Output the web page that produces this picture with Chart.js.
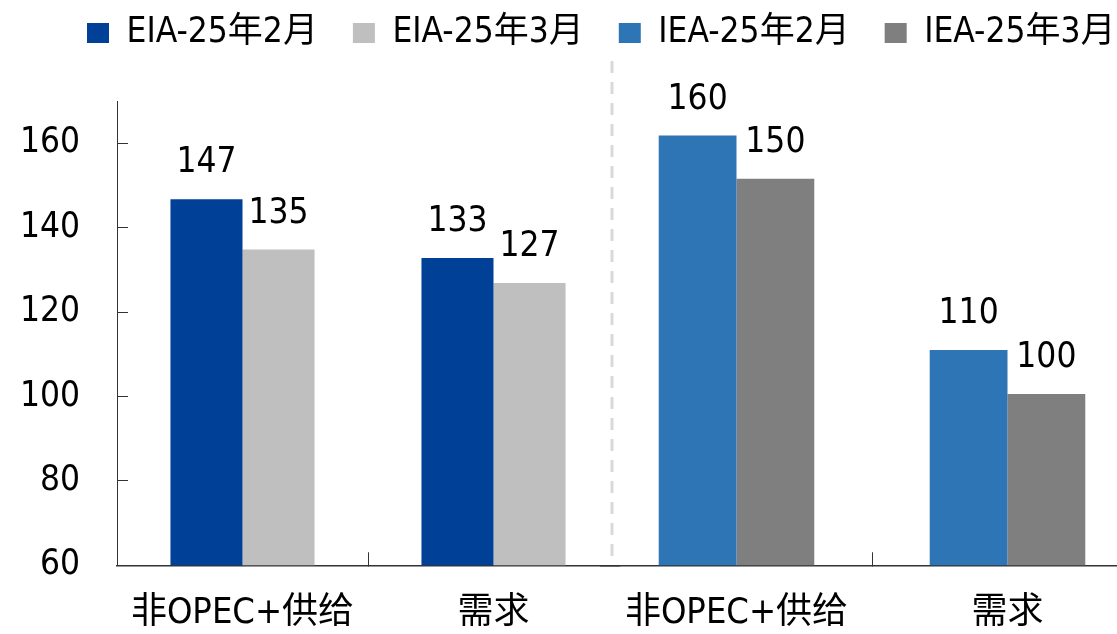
<!DOCTYPE html>
<html>
<head>
<meta charset="utf-8">
<script src="https://cdn.jsdelivr.net/npm/chart.js@4"></script>
<style>
  html, body { margin: 0; padding: 0; background: #fff; overflow: hidden; }
  #wrap { position: relative; width: 1117px; height: 634px; overflow: hidden; }
  #wrap canvas { position: absolute; left: 0; top: 0; }
</style>
</head>
<body>
<div id="wrap">
  <canvas id="eia" width="1180" height="634"></canvas>
  <canvas id="iea" width="1180" height="634"></canvas>
</div>
<script>
// data
const categories = ["非OPEC+供给", "需求"];
const seriesNames = ["EIA-25年2月", "EIA-25年3月", "IEA-25年2月", "IEA-25年3月"];
const seriesColors = ["#004096", "#BFBFBF", "#2E75B6", "#7F7F7F"];
const eiaFeb = [146.7, 132.8];
const eiaMar = [134.8, 126.9];
const ieaFeb = [161.8, 111.0];
const ieaMar = [151.6, 100.6];
const eiaFebText = ["147", "133"];
const eiaMarText = ["135", "127"];
const ieaFebText = ["160", "110"];
const ieaMarText = ["150", "100"];
const yMin = 60, yMax = 170, yStep = 20;

const FONT = "'DejaVu Sans Condensed', 'Noto Sans CJK SC', sans-serif";
Chart.defaults.font.family = FONT;
Chart.defaults.color = "#000";

const W = 1180;
const LEFT_AXIS = 117;     // left chart: y axis position
const LEFT_END = 619;      // left chart: right edge of plot
const RIGHT_START = 601;   // right chart: left edge of plot
const RIGHT_END = 1143;    // right chart: right edge of plot
const PLOT_TOP = 101;
const BOTTOM_PAD = -41.5;  // x axis counts its tick padding twice; take one back
const AXIS_COLOR = "#333";

const LEG_FONT = 35;
const LEG_PAD = 35;
const LEG_LEFT = 87 - LEG_PAD;
const LEG_TOP = 33 - LEG_PAD - LEG_FONT / 2;

// draws the number above each bar
const valueLabels = {
  id: "valueLabels",
  afterDatasetsDraw(chart) {
    const ctx = chart.ctx;
    ctx.save();
    ctx.font = "35px " + FONT;
    ctx.fillStyle = "#000";
    ctx.textAlign = "center";
    ctx.textBaseline = "alphabetic";
    chart.data.datasets.forEach((ds, i) => {
      chart.getDatasetMeta(i).data.forEach((bar, j) => {
        ctx.fillText(ds.valueText[j], bar.x, bar.y - 27);
      });
    });
    ctx.restore();
  }
};

// dashed divider between the two halves
const divider = {
  id: "divider",
  beforeDatasetsDraw(chart) {
    const { ctx, chartArea } = chart;
    const x = chartArea.left + 11;
    ctx.save();
    ctx.strokeStyle = "#D9D9D9";
    ctx.lineWidth = 3;
    ctx.setLineDash([12, 9]);
    ctx.beginPath();
    ctx.moveTo(x, chartArea.top - 40);
    ctx.lineTo(x, chartArea.bottom - 7);
    ctx.stroke();
    ctx.restore();
  }
};

// fixed legend height so the plot starts at the same place in both charts
const legendSpace = {
  id: "legendSpace",
  beforeInit(chart) {
    const fit = chart.legend.fit;
    chart.legend.fit = function () {
      fit.bind(chart.legend)();
      this.height = PLOT_TOP - LEG_TOP;
    };
  }
};

function xAxis() {
  return {
    type: "category",
    offset: true,
    grid: {
      display: true,
      offset: true,
      drawOnChartArea: false,
      drawTicks: true,
      tickLength: -13,
      lineWidth: 1,
      color: (c) => (c.index === 1 ? AXIS_COLOR : "rgba(0,0,0,0)")
    },
    border: { display: true, color: AXIS_COLOR, width: 1.5 },
    ticks: { font: { size: 36 }, padding: 40, maxRotation: 0, autoSkip: false }
  };
}

function barSet(label, data, color, text) {
  return {
    label: label,
    data: data,
    backgroundColor: color,
    borderWidth: 0,
    valueText: text,
    categoryPercentage: 0.574,
    barPercentage: 1.0
  };
}

// left half: EIA
new Chart(document.getElementById("eia"), {
  type: "bar",
  data: {
    labels: categories,
    datasets: [
      barSet(seriesNames[0], eiaFeb, seriesColors[0], eiaFebText),
      barSet(seriesNames[1], eiaMar, seriesColors[1], eiaMarText)
    ]
  },
  options: {
    responsive: false,
    animation: false,
    events: [],
    layout: { padding: { top: PLOT_TOP, right: W - LEFT_END, left: 0, bottom: BOTTOM_PAD } },
    plugins: { legend: { display: false }, tooltip: { enabled: false } },
    scales: {
      x: xAxis(),
      y: {
        min: yMin,
        max: yMax,
        afterFit: (s) => { s.width = LEFT_AXIS; },
        grid: {
          display: true,
          drawOnChartArea: false,
          drawTicks: true,
          tickLength: -11,
          color: AXIS_COLOR,
          lineWidth: 1
        },
        border: { display: true, color: AXIS_COLOR, width: 1 },
        ticks: {
          stepSize: yStep,
          includeBounds: false,
          padding: 48,
          font: { size: 35, lineHeight: 1 }
        }
      }
    }
  },
  plugins: [valueLabels]
});

// right half: IEA (carries the legend for all four series)
new Chart(document.getElementById("iea"), {
  type: "bar",
  data: {
    labels: categories,
    datasets: [
      barSet(seriesNames[2], ieaFeb, seriesColors[2], ieaFebText),
      barSet(seriesNames[3], ieaMar, seriesColors[3], ieaMarText)
    ]
  },
  options: {
    responsive: false,
    animation: false,
    events: [],
    layout: { padding: { top: LEG_TOP, left: LEG_LEFT, right: 0, bottom: BOTTOM_PAD } },
    plugins: {
      tooltip: { enabled: false },
      legend: {
        display: true,
        position: "top",
        align: "start",
        labels: {
          boxWidth: 22,
          boxHeight: 20,
          padding: LEG_PAD,
          font: { size: LEG_FONT },
          color: "#000",
          generateLabels: () => seriesNames.map((name, i) => ({
            text: name,
            fillStyle: seriesColors[i],
            strokeStyle: seriesColors[i],
            lineWidth: 0,
            hidden: false,
            index: i
          }))
        }
      }
    },
    scales: {
      x: xAxis(),
      y: {
        min: yMin,
        max: yMax,
        afterFit: (s) => { s.width = RIGHT_START - LEG_LEFT; },
        grid: { display: false },
        border: { display: false },
        ticks: { display: false }
      },
      yRight: {
        position: "right",
        afterFit: (s) => { s.width = W - RIGHT_END; },
        grid: { display: false },
        border: { display: false },
        ticks: { display: false }
      }
    }
  },
  plugins: [legendSpace, divider, valueLabels]
});
</script>
</body>
</html>
